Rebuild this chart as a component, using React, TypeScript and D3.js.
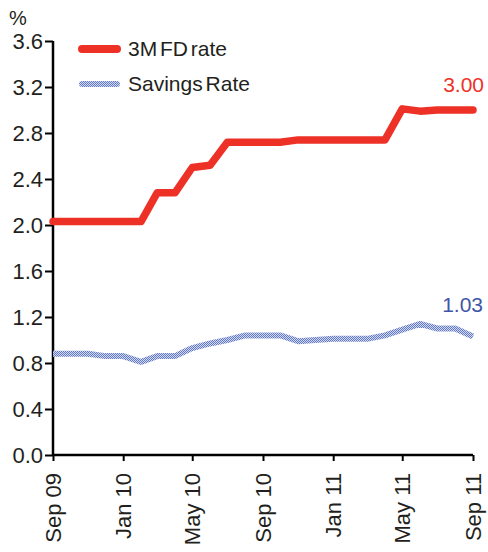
import React, { useEffect, useRef } from 'react';
import * as d3 from 'd3';

// monthly observations, Sep 09 .. Sep 11
const months = [
  '2009-09', '2009-10', '2009-11', '2009-12', '2010-01', '2010-02', '2010-03',
  '2010-04', '2010-05', '2010-06', '2010-07', '2010-08', '2010-09', '2010-10',
  '2010-11', '2010-12', '2011-01', '2011-02', '2011-03', '2011-04', '2011-05',
  '2011-06', '2011-07', '2011-08', '2011-09',
];
const fdRate = [
  2.03, 2.03, 2.03, 2.03, 2.03, 2.03, 2.28, 2.28, 2.5, 2.52, 2.72, 2.72, 2.72,
  2.72, 2.74, 2.74, 2.74, 2.74, 2.74, 2.74, 3.01, 2.99, 3.0, 3.0, 3.0,
];
const savingsRate = [
  0.88, 0.88, 0.88, 0.86, 0.86, 0.81, 0.86, 0.86, 0.93, 0.97, 1.0, 1.04, 1.04,
  1.04, 0.99, 1.0, 1.01, 1.01, 1.01, 1.04, 1.09, 1.14, 1.1, 1.1, 1.03,
];
const yTicks = [0, 0.4, 0.8, 1.2, 1.6, 2.0, 2.4, 2.8, 3.2, 3.6];
const seriesNames = ['3M FD rate', 'Savings Rate'];

const RED = '#ee3127';
const BLUE_TEXT = '#3f55a8';
const TEXT = '#231f20';
const FONT = 'Liberation Sans, Arial, sans-serif';

export default function App() {
  const ref = useRef<SVGSVGElement>(null);

  useEffect(() => {
    const svg = d3.select(ref.current);
    svg.selectAll('*').remove();

    const left = 53, right = 473, top = 41, bottom = 455;
    const parse = d3.timeParse('%Y-%m');
    const dates = months.map((m) => parse(m) as Date);

    const x = d3.scaleTime()
      .domain([dates[0], dates[dates.length - 1]])
      .range([left, right]);
    const y = d3.scaleLinear().domain([0, 3.6]).range([bottom, top]);

    // checkered fill used for the savings line
    const defs = svg.append('defs');
    const pat = defs.append('pattern')
      .attr('id', 'check')
      .attr('patternUnits', 'userSpaceOnUse')
      .attr('width', 2)
      .attr('height', 2);
    pat.append('rect').attr('width', 2).attr('height', 2).attr('fill', '#d2d9f2');
    pat.append('rect').attr('width', 1).attr('height', 1).attr('fill', '#6479c4');
    pat.append('rect').attr('x', 1).attr('y', 1).attr('width', 1).attr('height', 1).attr('fill', '#6479c4');

    // y axis
    const yAxis = svg.append('g')
      .attr('transform', `translate(${left},0)`)
      .call(d3.axisLeft(y).tickValues(yTicks).tickFormat(d3.format('.1f')).tickSize(8).tickPadding(2));
    yAxis.select('.domain').attr('stroke', '#000').attr('stroke-width', 2.5).attr('d', `M0,${top}V${bottom}`);
    yAxis.selectAll('.tick line').attr('stroke', '#000').attr('stroke-width', 2);
    yAxis.selectAll('.tick text')
      .attr('fill', TEXT)
      .attr('font-size', 22)
      .attr('font-family', FONT);

    // x axis
    const xAxis = svg.append('g')
      .attr('transform', `translate(0,${bottom})`)
      .call(d3.axisBottom(x).ticks(d3.timeMonth.every(4)).tickFormat(d3.timeFormat('%b %y') as any).tickSize(6));
    xAxis.select('.domain').attr('stroke', '#000').attr('stroke-width', 2.5).attr('d', `M${left},0H${right}`);
    xAxis.selectAll('.tick line').attr('stroke', '#000').attr('stroke-width', 2);
    xAxis.selectAll('.tick text')
      .attr('fill', TEXT)
      .attr('font-size', 22)
      .attr('font-family', FONT)
      .attr('text-anchor', 'end')
      .attr('transform', 'translate(0,18) rotate(-90)')
      .attr('x', 0)
      .attr('y', 0)
      .attr('dy', '0.35em');

    svg.append('text')
      .attr('x', 9)
      .attr('y', 25)
      .attr('font-size', 20)
      .attr('font-family', FONT)
      .attr('fill', TEXT)
      .text('%');

    const line = d3.line<number>()
      .x((_, i) => x(dates[i]))
      .y((d) => y(d));

    svg.append('path')
      .datum(savingsRate)
      .attr('d', line)
      .attr('fill', 'none')
      .attr('stroke', 'url(#check)')
      .attr('stroke-width', 6)
      .attr('stroke-linejoin', 'round');

    svg.append('path')
      .datum(fdRate)
      .attr('d', line)
      .attr('fill', 'none')
      .attr('stroke', RED)
      .attr('stroke-width', 7.5)
      .attr('stroke-linejoin', 'round')
      .attr('stroke-linecap', 'round');

    // end labels
    const last = dates.length - 1;
    svg.append('text')
      .attr('x', x(dates[last]) + 11)
      .attr('y', y(fdRate[last]) - 18)
      .attr('text-anchor', 'end')
      .attr('font-size', 21)
      .attr('font-family', FONT)
      .attr('fill', RED)
      .text(d3.format('.2f')(fdRate[last]));
    svg.append('text')
      .attr('x', x(dates[last]) + 10)
      .attr('y', y(savingsRate[last]) - 25)
      .attr('text-anchor', 'end')
      .attr('font-size', 21)
      .attr('font-family', FONT)
      .attr('fill', BLUE_TEXT)
      .text(d3.format('.2f')(savingsRate[last]));

    // legend
    const legend = svg.append('g');
    const legendY = [49, 84];
    const strokes = [RED, 'url(#check)'];
    const widths = [8, 6];
    seriesNames.forEach((name, i) => {
      legend.append('line')
        .attr('x1', 82).attr('x2', 117)
        .attr('y1', legendY[i]).attr('y2', legendY[i])
        .attr('stroke', strokes[i])
        .attr('stroke-width', widths[i])
        .attr('stroke-linecap', 'round');
      legend.append('text')
        .attr('x', 128)
        .attr('y', legendY[i] + 7)
        .attr('font-size', 21)
        .attr('font-family', FONT)
        .attr('fill', TEXT)
        .attr('word-spacing', -3)
        .text(name);
    });
  }, []);

  return (
    <svg
      ref={ref}
      width={488}
      height={552}
      style={{ position: 'absolute', left: 0, top: 0, background: '#fff' }}
    />
  );
}
